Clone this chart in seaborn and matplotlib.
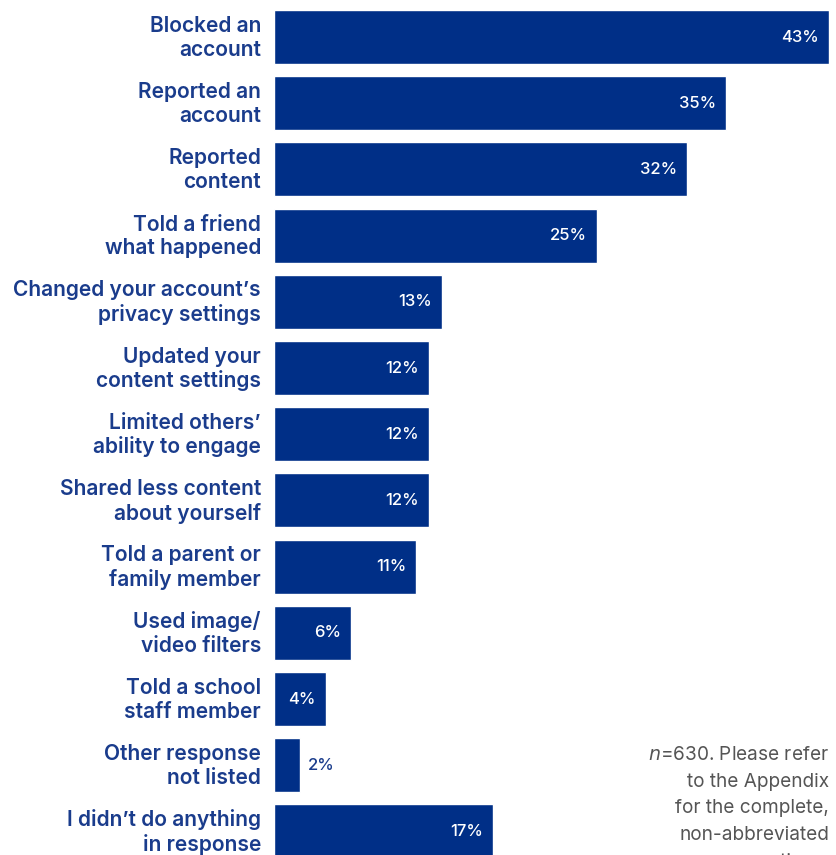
import matplotlib
matplotlib.use("Agg")
import matplotlib.pyplot as plt
import matplotlib.transforms as mtransforms
import seaborn as sns
import pandas as pd

categories = [
    "Blocked an\naccount",
    "Reported an\naccount",
    "Reported\ncontent",
    "Told a friend\nwhat happened",
    "Changed your account\u2019s\nprivacy settings",
    "Updated your\ncontent settings",
    "Limited others\u2019\nability to engage",
    "Shared less content\nabout yourself",
    "Told a parent or\nfamily member",
    "Used image/\nvideo filters",
    "Told a school\nstaff member",
    "Other response\nnot listed",
    "I didn\u2019t do anything\nin response",
]
values = [43, 35, 32, 25, 13, 12, 12, 12, 11, 6, 4, 2, 17]
value_labels = [f"{v}%" for v in values]

NAVY = "#002f87"
LABEL = "#1a3c8c"
NOTE = "#555555"

sns.set_theme(style="white")
plt.rcParams["font.family"] = ["Inter", "DejaVu Sans"]

df = pd.DataFrame({"response": categories, "share": values})

W, H = 836, 855
fig = plt.figure(figsize=(W / 100, H / 100), dpi=100)
left_px, right_px = 274, 829
ax = fig.add_axes([left_px / W, 0, (right_px - left_px) / W, 1])

sns.barplot(data=df, x="share", y="response", orient="h", color=NAVY,
            saturation=1, width=0.816, ax=ax)

pitch = 66.2
first_center = 37
ax.set_ylim(12 + (H - (first_center + 12 * pitch)) / pitch, -first_center / pitch)
ax.set_xlim(0, 43)

for s in ax.spines.values():
    s.set_visible(False)
ax.set_xticks([])
ax.set_xlabel("")
ax.set_ylabel("")
ax.tick_params(axis="y", length=0, pad=9.4)
ax.set_yticks(range(len(categories)))
ax.set_yticklabels(categories, fontsize=15.1, color=LABEL, fontweight="semibold",
                   linespacing=1.22, ha="right")
lift = mtransforms.ScaledTranslation(0, 3 / 100, fig.dpi_scale_trans)
for t in ax.get_yticklabels():
    t.set_transform(t.get_transform() + lift)

px_per_unit = (right_px - left_px) / 43.0
for i, (v, lab) in enumerate(zip(values, value_labels)):
    if v >= 4:
        ax.text(v - 10 / px_per_unit, i, lab, ha="right", va="center",
                color="white", fontsize=12, fontweight="medium")
    else:
        ax.text(v + 8 / px_per_unit, i, lab, ha="left", va="center",
                color=LABEL, fontsize=12, fontweight="medium")

note_lines = [
    r"$\it{n}$=630. Please refer",
    "to the Appendix",
    "for the complete,",
    "non-abbreviated",
    "response options.",
]
for k, line in enumerate(note_lines):
    fig.text(829 / W, 1 - (755 + 26.7 * k) / H, line, ha="right", va="center",
             fontsize=13.7, color=NOTE)

fig.savefig("out.png", dpi=100)
